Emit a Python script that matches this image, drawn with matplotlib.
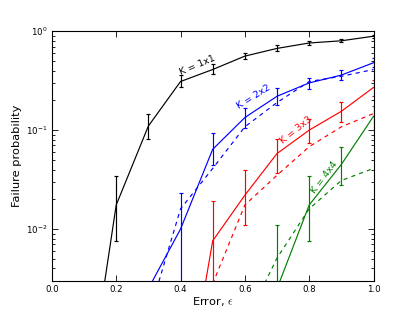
import numpy as np
import matplotlib
matplotlib.use("Agg")
import matplotlib.pyplot as plt

nan = np.nan

# error rate epsilon
eps = [0.1, 0.2, 0.3, 0.4, 0.5, 0.6, 0.7, 0.8, 0.9, 1.0]

# K = 1x1 (simulated, with errorbars)
k1_mean = [1.2e-4, 0.0175, 0.11, 0.31, 0.41, 0.56, 0.67, 0.76, 0.80, 0.89]
k1_lo   = [5e-5, 0.0076, 0.081, 0.27, 0.37, 0.52, 0.63, 0.72, 0.77, 0.86]
k1_hi   = [3e-4, 0.034, 0.145, 0.36, 0.47, 0.60, 0.72, 0.79, 0.84, 0.92]

# K = 2x2
k2_mean = [nan, nan, 0.0025, 0.010, 0.064, 0.134, 0.22, 0.30, 0.36, 0.48]
k2_lo   = [nan, nan, 0.0012, 0.001, 0.044, 0.104, 0.18, 0.26, 0.32, 0.43]
k2_hi   = [nan, nan, 0.0029, 0.023, 0.093, 0.166, 0.265, 0.34, 0.41, 0.54]
k2_model = [nan, nan, 0.0013, 0.016, 0.041, 0.108, 0.19, 0.31, 0.35, 0.41]

# K = 3x3
k3_mean = [nan, nan, nan, 1e-4, 0.0076, 0.022, 0.058, 0.10, 0.155, 0.27]
k3_lo   = [nan, nan, nan, 5e-5, 0.001, 0.0109, 0.0373, 0.074, 0.121, 0.22]
k3_hi   = [nan, nan, nan, 2e-4, 0.0194, 0.040, 0.082, 0.131, 0.193, 0.32]
k3_model = [nan, nan, nan, nan, 0.0028, 0.0175, 0.035, 0.068, 0.108, 0.147]

# K = 4x4
k4_mean = [nan, nan, nan, nan, nan, nan, 0.0025, 0.0175, 0.045, 0.138]
k4_lo   = [nan, nan, nan, nan, nan, nan, 0.0005, 0.0076, 0.028, 0.10]
k4_hi   = [nan, nan, nan, nan, nan, nan, 0.011, 0.034, 0.068, 0.175]
k4_model = [nan, nan, nan, nan, nan, 0.0011, 0.0051, 0.016, 0.031, 0.041]

series = [
    ("K = 1x1", "k", k1_mean, k1_lo, k1_hi, None, (0.451, 0.456, 23)),
    ("K = 2x2", "b", k2_mean, k2_lo, k2_hi, k2_model, (0.628, 0.216, 32)),
    ("K = 3x3", "r", k3_mean, k3_lo, k3_hi, k3_model, (0.759, 0.099, 39)),
    ("K = 4x4", "g", k4_mean, k4_lo, k4_hi, k4_model, (0.847, 0.033, 53)),
]

plt.rcParams["mathtext.fontset"] = "cm"

fig = plt.figure(figsize=(4.15, 3.12), dpi=100)
ax = fig.add_axes([0.125, 0.1, 0.775, 0.8])

x = np.array(eps)
for label, col, mean, lo, hi, model, (tx, ty, rot) in series:
    mean = np.array(mean)
    yerr = [mean - np.array(lo), np.array(hi) - mean]
    ax.errorbar(x, mean, yerr=yerr, color=col, lw=0.85, elinewidth=0.85,
                capsize=1.6, capthick=0.85)
    if model is not None:
        ax.plot(x, model, color=col, lw=0.85, linestyle=(0, (3.5, 3.5)))
    ax.text(tx, ty, label, color=col, fontsize=6.8, rotation=rot,
            ha="center", va="center", rotation_mode="anchor")

ax.set_yscale("log")
ax.set_xlim(0, 1)
ax.set_ylim(0.003, 1)
ax.set_xticks([0.0, 0.2, 0.4, 0.6, 0.8, 1.0])
ax.tick_params(which="both", direction="in", top=True, right=True,
               labelsize=6.2, width=0.6)
ax.tick_params(which="major", length=4, pad=3)
ax.tick_params(which="minor", length=2)
for s in ax.spines.values():
    s.set_linewidth(0.8)
ax.set_xlabel(r"Error, $\epsilon$", fontsize=8.2, labelpad=1)
ax.set_ylabel("Failure probability", fontsize=8.2, labelpad=3)

fig.savefig("out.png", dpi=100, facecolor="white")
